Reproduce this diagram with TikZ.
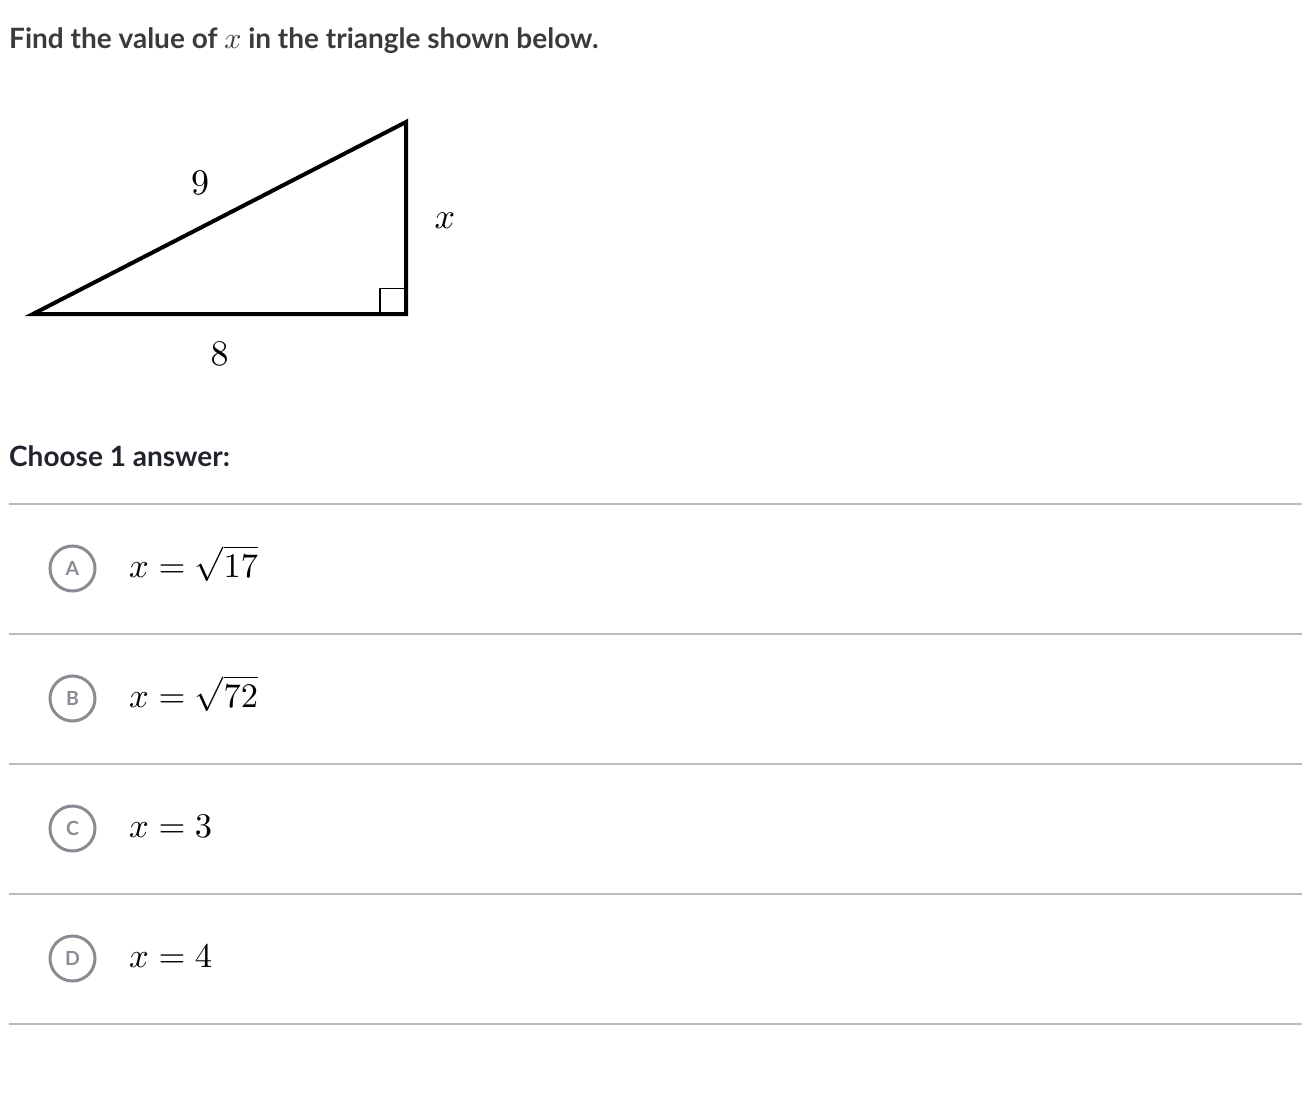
\documentclass[tikz,border=0pt]{standalone}
\usepackage[no-math]{fontspec}
\newfontfamily\lato{Lato}
\definecolor{titletxt}{HTML}{3B3B3B}
\definecolor{headtxt}{HTML}{21242C}
\definecolor{circgray}{HTML}{888D93}
\definecolor{sepgray}{HTML}{BCBCBC}
\newcommand{\mathat}[2]{\scalebox{#1}{\fontsize{10}{12}\selectfont$#2$}}
\begin{document}
\begin{tikzpicture}[x=1pt,y=-1pt,
  titletext/.style={anchor=base west, inner sep=0pt, text=titletxt, font=\fontsize{28}{32}\lato\bfseries},
  headtext/.style={anchor=base west, inner sep=0pt, text=headtxt, font=\fontsize{28}{32}\lato\bfseries},
  sidelabel/.style={anchor=base, inner sep=0pt},
  answertext/.style={anchor=base west, inner sep=0pt},
  choicecirc/.style={circle, draw=circgray, line width=3pt, minimum size=45pt, inner sep=0pt, text=circgray, font=\fontsize{19.5}{22}\lato\bfseries},
  triline/.style={line width=4pt, line join=miter},
  sepline/.style={draw=sepgray, line width=2pt}
]
\useasboundingbox[fill=white] (0,0) rectangle (1302,1097);

% title
\node[titletext] (title) at (9,49) {Find the value of \mathat{3.0}{x} in the triangle shown below.};

% triangle
\coordinate (P) at (33,314);
\coordinate (Q) at (406,314);
\coordinate (R) at (406,122);
\draw[triline] (P) -- (Q) -- (R) -- cycle;
\coordinate (S1) at (380,314);
\coordinate (S2) at (380,288.5);
\coordinate (S3) at (406,288.5);
\draw[line width=1.3pt] (S1) -- (S2) -- (S3);
\node[sidelabel] (nine) at (200,195) {\mathat{3.6}{9}};
\node[sidelabel] (eight) at (219.5,365) {\mathat{3.6}{8}};
\node[sidelabel] (xlab) at (445,228) {\mathat{3.6}{x}};

% choose
\node[headtext] (choose) at (9,466) {Choose 1 answer:};

% separators
\foreach \i/\yy in {0/504,1/634,2/764,3/894,4/1024}{
  \coordinate (L\i) at (9,\yy);
  \coordinate (R\i) at (1302,\yy);
  \draw[sepline] (L\i) -- (R\i);
}

% answers
\node[choicecirc] (cA) at (72.5,568.5) {A};
\node[answertext] (aA) at (129,577) {\mathat{3.45}{x=\sqrt{17}}};
\node[choicecirc] (cB) at (72.5,698.5) {B};
\node[answertext] (aB) at (129,707) {\mathat{3.45}{x=\sqrt{72}}};
\node[choicecirc] (cC) at (72.5,828.5) {C};
\node[answertext] (aC) at (129,837) {\mathat{3.45}{x=3}};
\node[choicecirc] (cD) at (72.5,958.5) {D};
\node[answertext] (aD) at (129,967) {\mathat{3.45}{x=4}};
\end{tikzpicture}
\end{document}
